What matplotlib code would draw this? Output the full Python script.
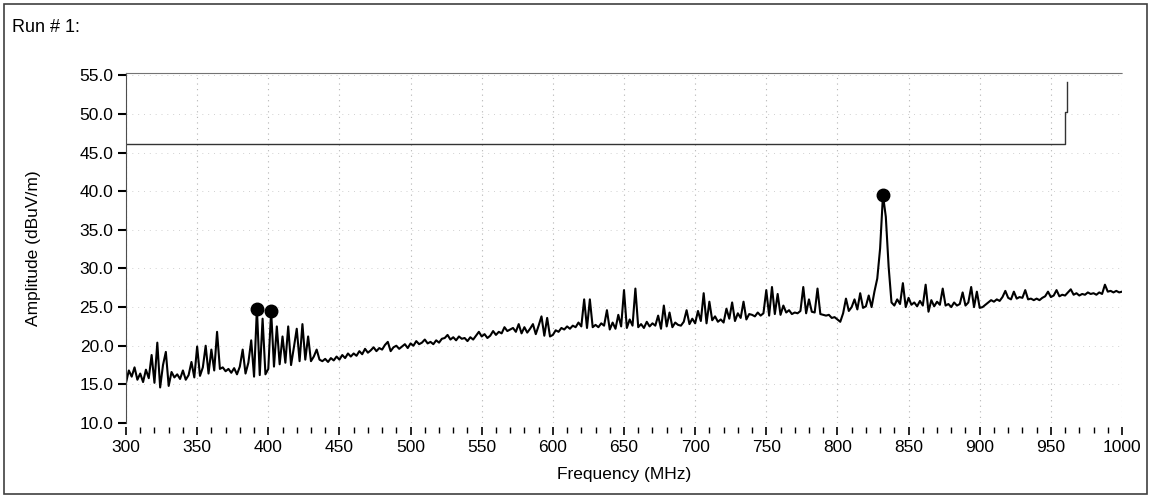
import numpy as np
import matplotlib
matplotlib.use("Agg")
import matplotlib.pyplot as plt
from matplotlib.patches import Rectangle
from matplotlib.ticker import MultipleLocator, FormatStrFormatter

# ==========================================
# DATA (2 MHz steps)
# ==========================================

freq_start, freq_stop, freq_step = 300, 1000, 2

amplitude = [
    # 300 - 318
    15.2, 16.8, 16.0, 17.2, 15.6, 16.4, 15.3, 16.9, 15.8, 18.8,
    # 320 - 338
    15.2, 20.4, 14.6, 17.5, 19.2, 14.8, 16.6, 15.9, 16.3, 15.7,
    # 340 - 358
    16.8, 15.6, 16.2, 17.9, 15.9, 19.9, 16.1, 17.2, 20.0, 16.4,
    # 360 - 378
    19.5, 16.8, 21.8, 17.0, 17.2, 16.7, 17.0, 16.5, 17.1, 16.3,
    # 380 - 398
    17.3, 19.5, 16.4, 17.8, 20.7, 16.0, 24.8, 16.2, 23.5, 16.3,
    # 400 - 418
    17.0, 24.5, 17.3, 22.5, 17.6, 21.2, 17.8, 22.5, 17.5, 19.8,
    # 420 - 438
    22.2, 18.0, 22.8, 18.2, 21.2, 18.0, 18.6, 19.5, 18.2, 18.0,
    # 440 - 458
    18.3, 17.9, 18.4, 18.1, 18.6, 18.2, 18.8, 18.4, 19.0, 18.6,
    # 460 - 478
    19.0, 18.7, 19.3, 18.9, 19.6, 19.1, 19.4, 19.8, 19.3, 19.7,
    # 480 - 498
    19.5, 20.1, 20.5, 19.3, 19.8, 20.0, 19.6, 19.9, 20.2, 19.7,
    # 500 - 518
    20.3, 20.0, 20.6, 20.2, 20.4, 20.8, 20.3, 20.5, 20.2, 20.7,
    # 520 - 538
    20.4, 20.9, 21.0, 21.4, 20.8, 21.1, 20.7, 21.2, 20.9, 21.0,
    # 540 - 558
    20.6, 21.1, 20.8, 21.3, 21.8, 21.2, 21.5, 21.0, 21.3, 21.9,
    # 560 - 578
    21.4, 21.8, 21.6, 22.4, 21.9, 22.1, 22.3, 21.8, 22.8, 21.6,
    # 580 - 598
    22.4, 21.7, 22.2, 22.8, 21.5, 22.6, 23.8, 21.3, 23.6, 21.2,
    # 600 - 618
    21.4, 22.0, 21.8, 22.3, 22.1, 22.5, 22.2, 22.6, 22.4, 23.0,
    # 620 - 638
    22.5, 26.0, 22.3, 26.0, 22.4, 22.7, 22.4, 22.9, 22.6, 24.6,
    # 640 - 658
    22.1, 23.0, 22.2, 24.0, 22.5, 27.2, 22.3, 23.4, 22.6, 27.4,
    # 660 - 678
    22.4, 22.8, 22.3, 23.1, 22.5, 22.9, 22.6, 23.9, 22.2, 25.2,
    # 680 - 698
    22.5, 24.3, 22.4, 23.0, 22.7, 22.6, 23.1, 24.6, 22.8, 23.5,
    # 700 - 718
    22.9, 24.5, 23.2, 26.8, 22.9, 25.7, 23.3, 23.8, 23.1, 23.4,
    # 720 - 738
    23.0, 24.8, 23.5, 25.6, 23.2, 24.2, 23.6, 25.7, 23.4, 24.1,
    # 740 - 758
    24.0, 23.8, 24.3, 23.9, 24.2, 27.2, 23.9, 27.6, 24.1, 26.7,
    # 760 - 778
    24.0, 25.2, 24.3, 24.6, 24.1, 24.3, 24.2, 24.5, 27.6, 24.2,
    # 780 - 798
    26.0, 24.4, 24.3, 27.4, 24.1, 24.0, 23.9, 24.0, 23.6, 23.7,
    # 800 - 818
    23.4, 23.1, 24.2, 26.1, 24.5, 25.0, 26.0, 24.7, 26.8, 24.9,
    # 820 - 838
    25.1, 26.5, 25.0, 27.0, 28.7, 32.6, 39.5, 36.7, 30.2, 25.6,
    # 840 - 858
    25.2, 26.0, 25.4, 28.1, 25.0, 26.2, 25.3, 25.6, 25.1, 25.8,
    # 860 - 878
    25.2, 27.9, 24.4, 25.9, 25.1, 25.7, 25.3, 27.4, 25.2, 25.4,
    # 880 - 898
    25.0, 25.6, 25.2, 25.4, 26.9, 25.2, 25.6, 27.6, 25.0, 27.0,
    # 900 - 918
    24.9, 25.0, 25.3, 25.6, 25.9, 25.7, 26.0, 25.8, 26.3, 27.1,
    # 920 - 938
    26.2, 26.0, 27.0, 26.1, 26.3, 26.2, 27.2, 26.0, 26.1, 25.9,
    # 940 - 958
    26.1, 25.9, 26.2, 26.4, 27.0, 26.3, 26.5, 27.2, 26.4, 26.6,
    # 960 - 978
    26.5, 26.9, 27.3, 26.6, 26.8, 26.5, 26.7, 26.6, 26.9, 26.7,
    # 980 - 998
    26.8, 26.6, 26.9, 26.7, 27.9, 27.0, 27.1, 26.9, 27.1, 26.9,
    # 1000
    27.0,
]

# limit line (horizontal with a step up near 960 MHz)
limit_freq = [300, 960, 960, 961, 961]
limit_db   = [46.1, 46.1, 50.2, 50.2, 54.1]

# peak markers
marker_freq = [392, 402, 832]
marker_db   = [24.8, 24.5, 39.5]

y_ticks = [10, 15, 20, 25, 30, 35, 40, 45, 50, 55]

frequency = np.arange(freq_start, freq_stop + freq_step, freq_step)
assert len(frequency) == len(amplitude)

# ==========================================
# PLOT
# ==========================================

plt.rcParams["font.family"] = ["Liberation Sans", "DejaVu Sans"]

fig = plt.figure(figsize=(11.5, 4.98), dpi=100)
ax = fig.add_axes([126 / 1150, 1 - 423 / 498, (1122 - 126) / 1150, (423 - 73) / 498])

# scanned page frame
fig.patches.append(Rectangle((4 / 1150, 4 / 498), 1143 / 1150, 490 / 498,
                             transform=fig.transFigure, fill=False,
                             edgecolor="0.25", linewidth=1.2))
fig.text(12 / 1150, 1 - 28 / 498, "Run # 1:", fontsize=13, va="center", ha="left")

ax.plot(frequency, amplitude, color="black", linewidth=1.5)
ax.plot(limit_freq, limit_db, color="0.2", linewidth=1.0)
ax.plot(marker_freq, marker_db, linestyle="none", marker="o", markersize=9,
        color="black")

ax.set_xlim(300, 1000)
ax.set_ylim(10, 55.3)

ax.xaxis.set_major_locator(MultipleLocator(50))
ax.xaxis.set_minor_locator(MultipleLocator(10))
ax.set_yticks(y_ticks)
ax.yaxis.set_major_formatter(FormatStrFormatter("%.1f"))

ax.xaxis.grid(True, which="major", color="0.7", linestyle=(0, (1, 4)), linewidth=0.8)
ax.yaxis.grid(True, which="major", color="0.82", linestyle=(0, (1, 5)), linewidth=0.7)
ax.set_axisbelow(True)

for side in ["right", "bottom"]:
    ax.spines[side].set_visible(False)
ax.spines["bottom"].set_position(("outward", 3))
ax.spines["left"].set_color("0.3")
ax.spines["top"].set_color("0.45")
ax.spines["top"].set_linestyle((0, (2, 1)))

ax.tick_params(axis="x", which="major", direction="out", length=6, width=1.2,
               pad=3, labelsize=12.5)
ax.tick_params(axis="x", which="minor", direction="out", length=4, width=1.0)
ax.tick_params(axis="y", direction="out", length=6, width=1.5, pad=3,
               labelsize=12.5)

ax.set_xlabel("Frequency (MHz)", fontsize=12.5, labelpad=9)
ax.set_ylabel("Amplitude (dBuV/m)", fontsize=12.5, labelpad=28)

fig.savefig("out.png", dpi=100)
print("Saved: out.png")
